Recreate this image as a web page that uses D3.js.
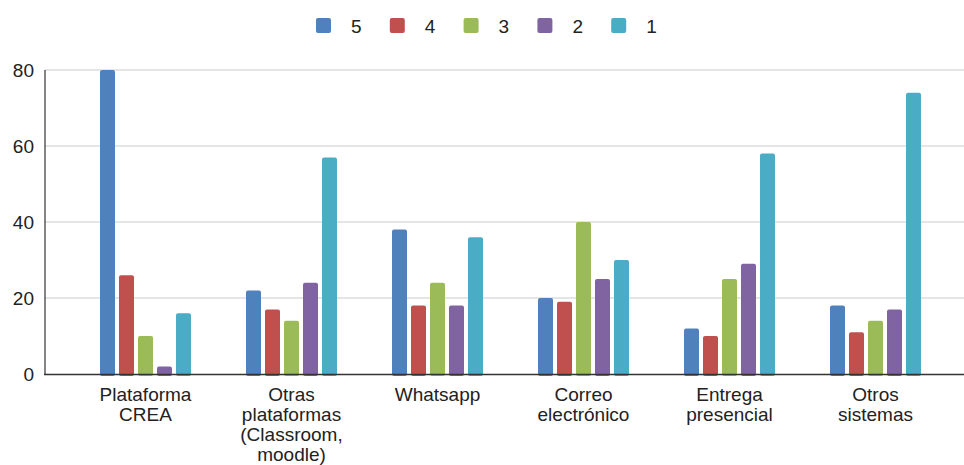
<!DOCTYPE html>
<html>
<head>
<meta charset="utf-8">
<script src="https://cdn.jsdelivr.net/npm/d3@7"></script>
<style>
  html, body { margin: 0; padding: 0; background: #fff; }
  svg { display: block; font-family: "Liberation Sans", Arial, sans-serif; }
</style>
</head>
<body>
<svg id="chart" width="964" height="465"></svg>
<script>
// Categories (each label split into its display lines)
const categories = [
  ["Plataforma", "CREA"],
  ["Otras", "plataformas", "(Classroom,", "moodle)"],
  ["Whatsapp"],
  ["Correo", "electrónico"],
  ["Entrega", "presencial"],
  ["Otros", "sistemas"]
];
const seriesNames = ["5", "4", "3", "2", "1"];
const seriesColors = ["#4f81bd", "#c0504d", "#9bbb59", "#8064a2", "#4bacc6"];

// Values per series, one per category
const s5 = [80, 22, 38, 20, 12, 18];
const s4 = [26, 17, 18, 19, 10, 11];
const s3 = [10, 14, 24, 40, 25, 14];
const s2 = [2, 24, 18, 25, 29, 17];
const s1 = [16, 57, 36, 30, 58, 74];
const seriesValues = [s5, s4, s3, s2, s1];

const yTicks = [0, 20, 40, 60, 80];

const FONT = 19;
const FAMILY = "Liberation Sans, Arial, sans-serif";
const svg = d3.select("#chart");
const plotLeft = 45, plotRight = 964, plotTop = 70, plotBottom = 374;

const x0 = d3.scaleBand()
  .domain(d3.range(categories.length))
  .range([72.5, 948.5])
  .padding(0);

const x1 = d3.scaleBand()
  .domain(seriesNames)
  .range([-45.5, 45.5])
  .paddingInner(4 / 19)
  .paddingOuter(0);

const y = d3.scaleLinear().domain([0, 80]).range([plotBottom, plotTop]);

// Gridlines
svg.append("g")
  .selectAll("line")
  .data(yTicks.filter(d => d > 0))
  .join("line")
  .attr("x1", plotLeft).attr("x2", plotRight)
  .attr("y1", d => y(d)).attr("y2", d => y(d))
  .attr("stroke", "#cccccc").attr("stroke-width", 1.2);

// Y axis labels
const yAxis = d3.axisLeft(y).tickValues(yTicks).tickSize(0).tickPadding(11);
const yg = svg.append("g").attr("transform", `translate(${plotLeft},0)`).call(yAxis);
yg.select(".domain").remove();
yg.selectAll("text")
  .attr("font-size", FONT)
  .attr("fill", "#222")
  .attr("font-family", FAMILY);

// Bars
const groups = svg.append("g")
  .selectAll("g")
  .data(categories.map((c, i) => i))
  .join("g")
  .attr("transform", i => `translate(${x0(i) + x0.bandwidth() / 2},0)`);

groups.selectAll("rect")
  .data(i => seriesNames.map((s, k) => ({ s, k, v: seriesValues[k][i] })))
  .join("rect")
  .attr("x", d => x1(d.s))
  .attr("width", x1.bandwidth())
  .attr("y", d => y(d.v))
  .attr("height", d => y(0) - y(d.v) + 2)
  .attr("rx", 2).attr("ry", 2)
  .attr("fill", d => seriesColors[d.k]);

// Axis lines
svg.append("line")
  .attr("x1", plotLeft).attr("x2", plotLeft)
  .attr("y1", plotTop).attr("y2", plotBottom)
  .attr("stroke", "#333").attr("stroke-width", 1.2);
svg.append("line")
  .attr("x1", plotLeft - 1).attr("x2", plotRight)
  .attr("y1", plotBottom + 0.5).attr("y2", plotBottom + 0.5)
  .attr("stroke", "#333").attr("stroke-width", 1.5);

// Category labels
const xl = svg.append("g");
categories.forEach((lines, i) => {
  const t = xl.append("text")
    .attr("x", x0(i) + x0.bandwidth() / 2)
    .attr("y", 401)
    .attr("text-anchor", "middle")
    .attr("font-size", FONT)
    .attr("fill", "#222");
  lines.forEach((ln, j) => {
    t.append("tspan")
      .attr("x", x0(i) + x0.bandwidth() / 2)
      .attr("dy", j === 0 ? 0 : 20)
      .text(ln);
  });
});

// Legend
const legend = svg.append("g");
seriesNames.forEach((s, k) => {
  const lx = 316 + k * 73.8;
  legend.append("rect")
    .attr("x", lx).attr("y", 18)
    .attr("width", 15).attr("height", 15)
    .attr("rx", 2).attr("ry", 2)
    .attr("fill", seriesColors[k]);
  legend.append("text")
    .attr("x", lx + 35).attr("y", 33)
    .attr("font-size", FONT)
    .attr("fill", "#222")
    .text(s);
});
</script>
</body>
</html>
